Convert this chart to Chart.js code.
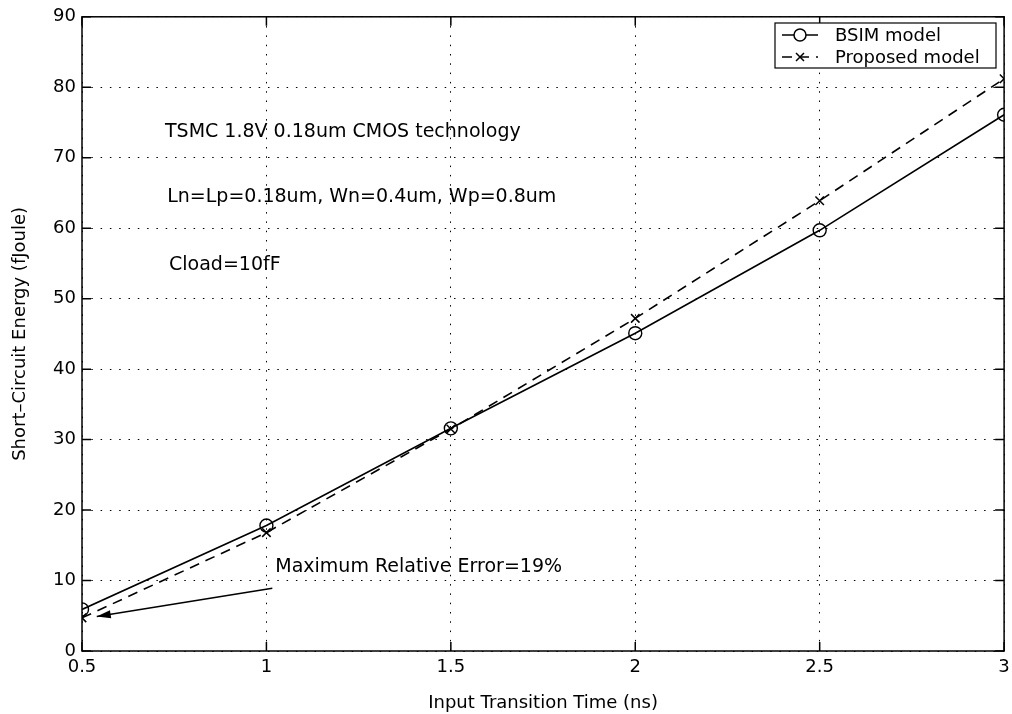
<!DOCTYPE html>
<html>
<head>
<meta charset="utf-8">
<script src="https://cdn.jsdelivr.net/npm/chart.js@4/dist/chart.umd.min.js"></script>
<style>
  html, body { margin: 0; padding: 0; background: #fff; }
  canvas { display: block; }
</style>
</head>
<body>
<canvas id="myChart" width="1012" height="714"></canvas>
<script>
'use strict';
// input transition time (ns)
let transitionTimes = [0.5, 1, 1.5, 2, 2.5, 3]
// short-circuit energy (fJoule)
let bsimEnergy = [5.9, 17.8, 31.6, 45.1, 59.7, 76.1]
let proposedEnergy = [4.7, 16.8, 31.5, 47.2, 63.9, 81.2]
let xTicks = [0.5, 1, 1.5, 2, 2.5, 3]
let yTicks = [0, 10, 20, 30, 40, 50, 60, 70, 80, 90]
let seriesNames = ['BSIM model', 'Proposed model']

let notes = [
  {text: 'TSMC 1.8V 0.18um CMOS technology', x: 0.725, y: 73.6},
  {text: 'Ln=Lp=0.18um, Wn=0.4um, Wp=0.8um', x: 0.731, y: 64.4},
  {text: 'Cload=10fF', x: 0.736, y: 54.8},
  {text: 'Maximum Relative Error=19%', x: 1.024, y: 11.9}
]
let arrowFrom = {x: 1.016, y: 8.9}
let arrowTo = {x: 0.54, y: 4.9}

const FONT = '"DejaVu Sans", "Liberation Sans", Arial, sans-serif'
Chart.defaults.font.family = FONT
Chart.defaults.color = '#000'

function toPoints(values){
  let pts = []
  for(let i = 0; i < transitionTimes.length; i++){
    pts.push({x: transitionTimes[i], y: values[i]})
  }
  return pts
}

// frame, inward ticks, notes, arrow and the boxed legend
const matlabLook = {
  id: 'matlabLook',
  afterDraw(chart){
    const ctx = chart.ctx
    const a = chart.chartArea
    const xs = chart.scales.x
    const ys = chart.scales.y
    ctx.save()
    ctx.strokeStyle = '#000'
    ctx.lineWidth = 1.5
    ctx.setLineDash([])
    ctx.strokeRect(a.left, a.top, a.right - a.left, a.bottom - a.top)

    ctx.lineWidth = 1.5
    ctx.beginPath()
    for(let i = 0; i < yTicks.length; i++){
      let py = ys.getPixelForValue(yTicks[i])
      ctx.moveTo(a.left, py); ctx.lineTo(a.left + 9, py)
      ctx.moveTo(a.right, py); ctx.lineTo(a.right - 9, py)
    }
    for(let i = 0; i < xTicks.length; i++){
      let px = xs.getPixelForValue(xTicks[i])
      ctx.moveTo(px, a.bottom); ctx.lineTo(px, a.bottom - 9)
      ctx.moveTo(px, a.top); ctx.lineTo(px, a.top + 9)
    }
    ctx.stroke()

    ctx.fillStyle = '#000'
    ctx.font = '19px ' + FONT
    ctx.textBaseline = 'middle'
    ctx.textAlign = 'left'
    for(let i = 0; i < notes.length; i++){
      ctx.fillText(notes[i].text, xs.getPixelForValue(notes[i].x), ys.getPixelForValue(notes[i].y))
    }

    // arrow
    let x1 = xs.getPixelForValue(arrowFrom.x), y1 = ys.getPixelForValue(arrowFrom.y)
    let x2 = xs.getPixelForValue(arrowTo.x), y2 = ys.getPixelForValue(arrowTo.y)
    ctx.lineWidth = 1.5
    ctx.beginPath(); ctx.moveTo(x1, y1); ctx.lineTo(x2, y2); ctx.stroke()
    let ang = Math.atan2(y2 - y1, x2 - x1)
    ctx.beginPath()
    ctx.moveTo(x2, y2)
    ctx.lineTo(x2 - 14 * Math.cos(ang) + 4 * Math.sin(ang), y2 - 14 * Math.sin(ang) - 4 * Math.cos(ang))
    ctx.lineTo(x2 - 14 * Math.cos(ang) - 4 * Math.sin(ang), y2 - 14 * Math.sin(ang) + 4 * Math.cos(ang))
    ctx.closePath()
    ctx.fill()

    // legend
    let bx = 775, by = 23, bw = 221, bh = 45
    ctx.fillStyle = '#fff'
    ctx.fillRect(bx, by, bw, bh)
    ctx.strokeStyle = '#000'
    ctx.lineWidth = 1.2
    ctx.strokeRect(bx, by, bw, bh)
    let rows = [35, 57]
    chart.data.datasets.forEach((ds, i) => {
      let ry = rows[i]
      ctx.lineWidth = 1.5
      ctx.setLineDash(ds.borderDash || [])
      ctx.beginPath(); ctx.moveTo(782, ry); ctx.lineTo(818, ry); ctx.stroke()
      ctx.setLineDash([])
      ctx.beginPath()
      if(ds.pointStyle === 'circle'){
        ctx.arc(800, ry, 6, 0, Math.PI * 2)
      } else {
        ctx.moveTo(796, ry - 4); ctx.lineTo(804, ry + 4)
        ctx.moveTo(796, ry + 4); ctx.lineTo(804, ry - 4)
      }
      if(ds.pointStyle === 'circle'){
        ctx.fillStyle = '#fff'; ctx.fill()
      }
      ctx.stroke()
      ctx.fillStyle = '#000'
      ctx.font = '18px ' + FONT
      ctx.fillText(ds.label, 835, ry + 1)
    })
    ctx.restore()
  }
}

const ctx = document.getElementById('myChart')
const myChart = new Chart(ctx, {
  type: 'line',
  data: {
    datasets: [{
      label: seriesNames[0],
      data: toPoints(bsimEnergy),
      borderColor: '#000',
      borderWidth: 1.6,
      pointStyle: 'circle',
      pointRadius: 6.5,
      pointBorderWidth: 1.4,
      pointBorderColor: '#000',
      pointBackgroundColor: 'rgba(0,0,0,0)',
      tension: 0
    },
    {
      label: seriesNames[1],
      data: toPoints(proposedEnergy),
      borderColor: '#000',
      borderWidth: 1.6,
      borderDash: [10, 7],
      pointStyle: 'crossRot',
      pointRadius: 6,
      pointBorderWidth: 1.5,
      pointBorderColor: '#000',
      tension: 0
    }]
  },
  options: {
    responsive: false,
    animation: false,
    layout: {padding: {left: 0, top: 14, right: 0, bottom: 0}},
    plugins: {
      legend: {display: false},
      tooltip: {enabled: false}
    },
    scales: {
      x: {
        type: 'linear',
        min: 0.5,
        max: 3,
        afterBuildTicks: (scale) => { scale.ticks = xTicks.map(v => ({value: v})) },
        afterFit: (scale) => { scale.height = 63; scale.paddingRight = 7 },
        ticks: {
          font: {size: 18},
          padding: 6,
          callback: (v) => String(v)
        },
        grid: {color: '#000', lineWidth: 1, drawTicks: false},
        border: {display: false, dash: [1.5, 7.8]},
        title: {display: true, text: 'Input Transition Time (ns)', font: {size: 18}, padding: {top: 8, bottom: 0}}
      },
      y: {
        min: 0,
        max: 90,
        afterBuildTicks: (scale) => { scale.ticks = yTicks.map(v => ({value: v})) },
        afterFit: (scale) => { scale.width = 82 },
        ticks: {
          font: {size: 18},
          padding: 6
        },
        grid: {color: '#000', lineWidth: 1, drawTicks: false},
        border: {display: false, dash: [1.5, 7.8]},
        title: {display: true, text: 'Short\u2013Circuit Energy (fJoule)', font: {size: 18}, padding: {top: 10, bottom: 4}}
      }
    }
  },
  plugins: [matlabLook]
})
</script>
</body>
</html>
